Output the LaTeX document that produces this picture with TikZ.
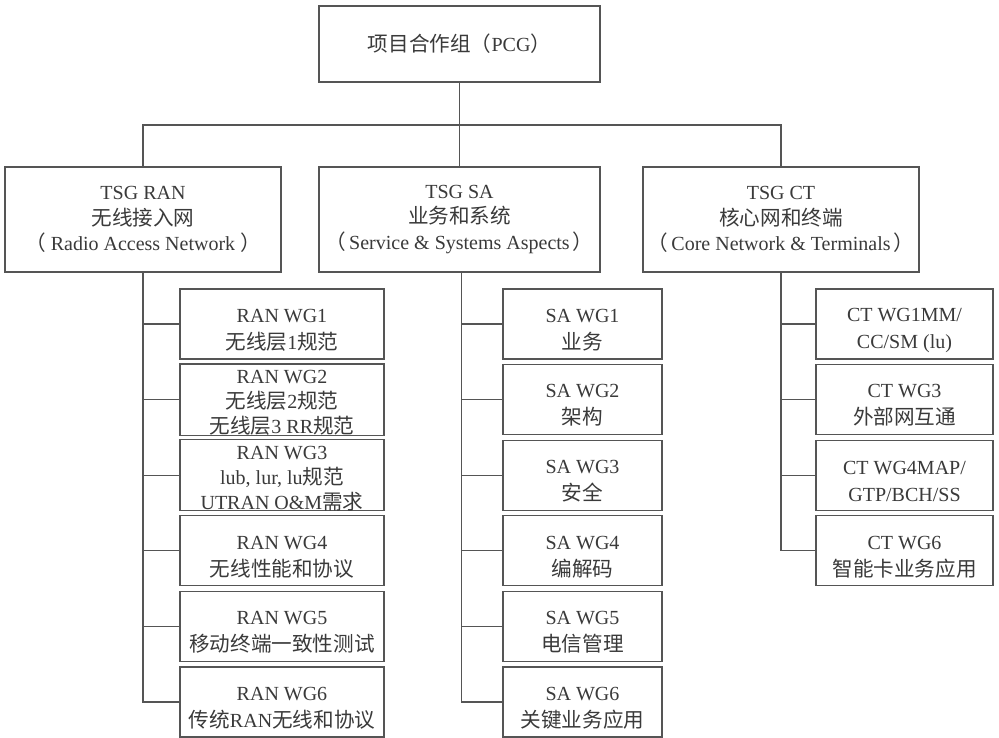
\documentclass[tikz,border=0pt]{standalone}
\usepackage{fontspec}
\setmainfont{Liberation Serif}
\newfontfamily\cjk{Noto Sans CJK SC}[Scale=1.03]
\newcommand\zh[1]{{\cjk #1}}
\newcommand\dn{\rule{0pt}{25.3pt}}
\newcommand\dnn{\rule{0pt}{19.3pt}}
\definecolor{ln}{HTML}{555555}
\definecolor{tx}{HTML}{3A3A3A}
\tikzset{
  box/.style={draw=ln, line width=1.3pt, align=center, inner sep=0pt, text=tx,
    font=\fontsize{20}{27}\selectfont},
  topbox/.style={box, minimum height=105pt, font=\fontsize{20}{25.5}\selectfont},
  wgbox/.style={box, minimum height=70pt},
  threeline/.style={font=\fontsize{20}{25}\selectfont},
  ranbox/.style={wgbox, minimum width=204pt},
  sabox/.style={wgbox, minimum width=159pt},
  ctbox/.style={wgbox, minimum width=177pt},
  conn/.style={draw=ln, line width=1.3pt}
}
\begin{document}
\begin{tikzpicture}[x=1pt,y=-1pt]
\useasboundingbox (0,0) rectangle (999,737);
\fill[white] (0,0) rectangle (999,737);

\node[box, minimum width=281pt, minimum height=76pt] (pcg) at (459.5,44) {\zh{项目合作组（}PCG\zh{）}};

\node[topbox, minimum width=276pt] (ran) at (143,219.5) {TSG RAN\\\zh{无线接入网}\\\zh{（}\hspace{5pt}Radio Access Network\hspace{5pt}\zh{）}};
\node[topbox, minimum width=281pt] (sa) at (459.5,219.5) {TSG SA\\\zh{业务和系统}\\\zh{（}\hspace{3pt}Service \& Systems Aspects\hspace{3pt}\zh{）}};
\node[topbox, minimum width=276pt] (ct) at (781,219.5) {TSG CT\\\zh{核心网和终端}\\\zh{（}\hspace{3pt}Core Network \& Terminals\hspace{3pt}\zh{）}};

% RAN working groups
\node[ranbox] (r1) at (282,324) {\dn RAN WG1\\\zh{无线层}1\zh{规范}};
\node[ranbox, threeline] (r2) at (282,399.6) {\dnn RAN WG2\\\zh{无线层}2\zh{规范}\\\zh{无线层}3 RR\zh{规范}};
\node[ranbox, threeline] (r3) at (282,475.2) {\dnn RAN WG3\\lub, lur, lu\zh{规范}\\UTRAN O\&M\zh{需求}};
\node[ranbox] (r4) at (282,550.8) {\dn RAN WG4\\\zh{无线性能和协议}};
\node[ranbox] (r5) at (282,626.4) {\dn RAN WG5\\\zh{移动终端一致性测试}};
\node[ranbox] (r6) at (282,702) {\dn RAN WG6\\\zh{传统}RAN\zh{无线和协议}};

% SA working groups
\node[sabox] (s1) at (582.5,324) {\dn SA WG1\\\zh{业务}};
\node[sabox] (s2) at (582.5,399.6) {\dn SA WG2\\\zh{架构}};
\node[sabox] (s3) at (582.5,475.2) {\dn SA WG3\\\zh{安全}};
\node[sabox] (s4) at (582.5,550.8) {\dn SA WG4\\\zh{编解码}};
\node[sabox] (s5) at (582.5,626.4) {\dn SA WG5\\\zh{电信管理}};
\node[sabox] (s6) at (582.5,702) {\dn SA WG6\\\zh{关键业务应用}};

% CT working groups
\node[ctbox] (c1) at (904.5,324) {\dn CT WG1MM/\\CC/SM (lu)};
\node[ctbox] (c2) at (904.5,399.6) {\dn CT WG3\\\zh{外部网互通}};
\node[ctbox] (c3) at (904.5,475.2) {\dn CT WG4MAP/\\GTP/BCH/SS};
\node[ctbox] (c4) at (904.5,550.8) {\dn CT WG6\\\zh{智能卡业务应用}};

% top connectors
\coordinate (bus) at (459.5,125);
\draw[conn] (pcg.south) -- (sa.north);
\draw[conn] (ran.north) -- (ran.north |- bus) -- (ct.north |- bus) -- (ct.north);

% trunks
\coordinate (satrunk) at ([xshift=2pt]sa.south);
\draw[conn] (ran.south) -- (ran.south |- r6.west) -- (r6.west);
\foreach \n in {r1,r2,r3,r4,r5} \draw[conn] (ran.south |- \n.west) -- (\n.west);
\draw[conn] (satrunk) -- (satrunk |- s6.west) -- (s6.west);
\foreach \n in {s1,s2,s3,s4,s5} \draw[conn] (satrunk |- \n.west) -- (\n.west);
\draw[conn] (ct.south) -- (ct.south |- c4.west) -- (c4.west);
\foreach \n in {c1,c2,c3} \draw[conn] (ct.south |- \n.west) -- (\n.west);
\end{tikzpicture}
\end{document}
